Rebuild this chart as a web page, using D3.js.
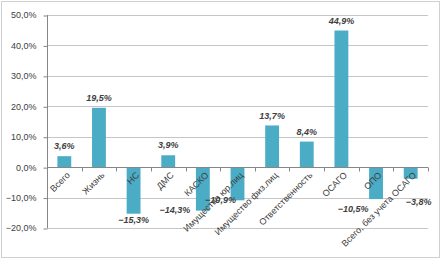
<!DOCTYPE html>
<html>
<head>
<meta charset="utf-8">
<script src="https://cdn.jsdelivr.net/npm/d3@7"></script>
<style>
  body { margin: 0; background: #fff; }
  svg text { font-family: "Liberation Sans", Arial, sans-serif; fill: #404040; }
</style>
</head>
<body>
<script>
// data
var categories = ["Всего", "Жизнь", "НС", "ДМС", "КАСКО", "Имущество юр.лиц",
    "Имущество физ.лиц", "Ответственность", "ОСАГО", "ОПО", "Всего, без учета ОСАГО"];
var values = [3.6, 19.5, -15.3, 3.9, -14.3, -10.9, 13.7, 8.4, 44.9, -10.5, -3.8];
var yTicks = [-20, -10, 0, 10, 20, 30, 40, 50];

// hand-moved data labels (like in the original excel chart)
var labelNudge = { "КАСКО": [-28, -7], "Имущество юр.лиц": [-17, -6], "ОПО": [-23, 4], "Всего, без учета ОСАГО": [8, 17] };

var W = 445, H = 264;
var margin = { top: 15, right: 17, bottom: 36, left: 47 };
var width = W - margin.left - margin.right;
var height = H - margin.top - margin.bottom;

var svg = d3.select("body").append("svg")
    .attr("width", W)
    .attr("height", H);

// outer frame
svg.append("rect")
    .attr("x", 1.5).attr("y", 1.5)
    .attr("width", 438).attr("height", 256)
    .attr("fill", "none")
    .attr("stroke", "#d0d0d0");

var g = svg.append("g")
    .attr("transform", "translate(" + margin.left + "," + margin.top + ")");

var y = d3.scaleLinear().domain([-20, 50]).range([height, 0]);
var x = d3.scaleBand().domain(categories).range([0, width]).paddingInner(0.6).paddingOuter(0.3);

var fmt = function(v) { return d3.format(".1f")(v).replace(".", ",").replace("-", "-") + "%"; };

// gridlines
g.append("g").selectAll("line")
    .data(yTicks)
    .join("line")
    .attr("x1", 0).attr("x2", width)
    .attr("y1", d => Math.round(y(d)) + 0.5)
    .attr("y2", d => Math.round(y(d)) + 0.5)
    .attr("stroke", "#c6c6c6");

// y axis
var yAxis = g.append("g")
    .attr("transform", "translate(0.5,0)")
    .call(d3.axisLeft(y).tickValues(yTicks).tickSize(4).tickPadding(7).tickFormat(d => fmt(d)));
yAxis.selectAll("line").attr("stroke", "#868686").attr("transform", "translate(0,0.5)");
yAxis.select(".domain").attr("stroke", "#868686").attr("d", "M0," + y(50) + "V" + y(-20));
yAxis.selectAll("text").style("font-size", "9px").attr("fill", "#404040");

// bars
g.append("g").selectAll("rect")
    .data(values)
    .join("rect")
    .attr("x", (d, i) => x(categories[i]))
    .attr("width", x.bandwidth())
    .attr("y", d => y(Math.max(0, d)))
    .attr("height", d => Math.abs(y(d) - y(0)))
    .attr("fill", "#4bacc6");

// x axis at zero
var zeroY = Math.round(y(0)) + 0.5;
g.append("line")
    .attr("x1", 0).attr("x2", width)
    .attr("y1", zeroY).attr("y2", zeroY)
    .attr("stroke", "#868686");
var step = x.step();
g.append("g").selectAll("line")
    .data(d3.range(categories.length + 1))
    .join("line")
    .attr("x1", i => Math.round(i * width / categories.length) + 0.5)
    .attr("x2", i => Math.round(i * width / categories.length) + 0.5)
    .attr("y1", zeroY).attr("y2", zeroY + 4)
    .attr("stroke", "#868686");

// category labels
g.append("g").selectAll("text")
    .data(categories)
    .join("text")
    .attr("transform", d => "translate(" + (x(d) + x.bandwidth() / 2 + 4) + "," + (zeroY + 6) + ") rotate(-45)")
    .attr("text-anchor", "end")
    .attr("dy", "0.35em")
    .style("font-size", "9px")
    .attr("fill", "#000")
    .text(d => d);

// value labels
g.append("g").selectAll("text")
    .data(values)
    .join("text")
    .attr("x", (d, i) => x(categories[i]) + x.bandwidth() / 2 + (labelNudge[categories[i]] ? labelNudge[categories[i]][0] : 0))
    .attr("y", (d, i) => (d >= 0 ? y(d) - 10 : y(d) + 6) + (labelNudge[categories[i]] ? labelNudge[categories[i]][1] : 0))
    .attr("dy", "0.35em")
    .attr("text-anchor", "middle")
    .style("font-size", "9px")
    .style("font-weight", "bold")
    .style("font-style", "italic")
    .attr("fill", "#000")
    .text(d => fmt(d));
</script>
</body>
</html>
